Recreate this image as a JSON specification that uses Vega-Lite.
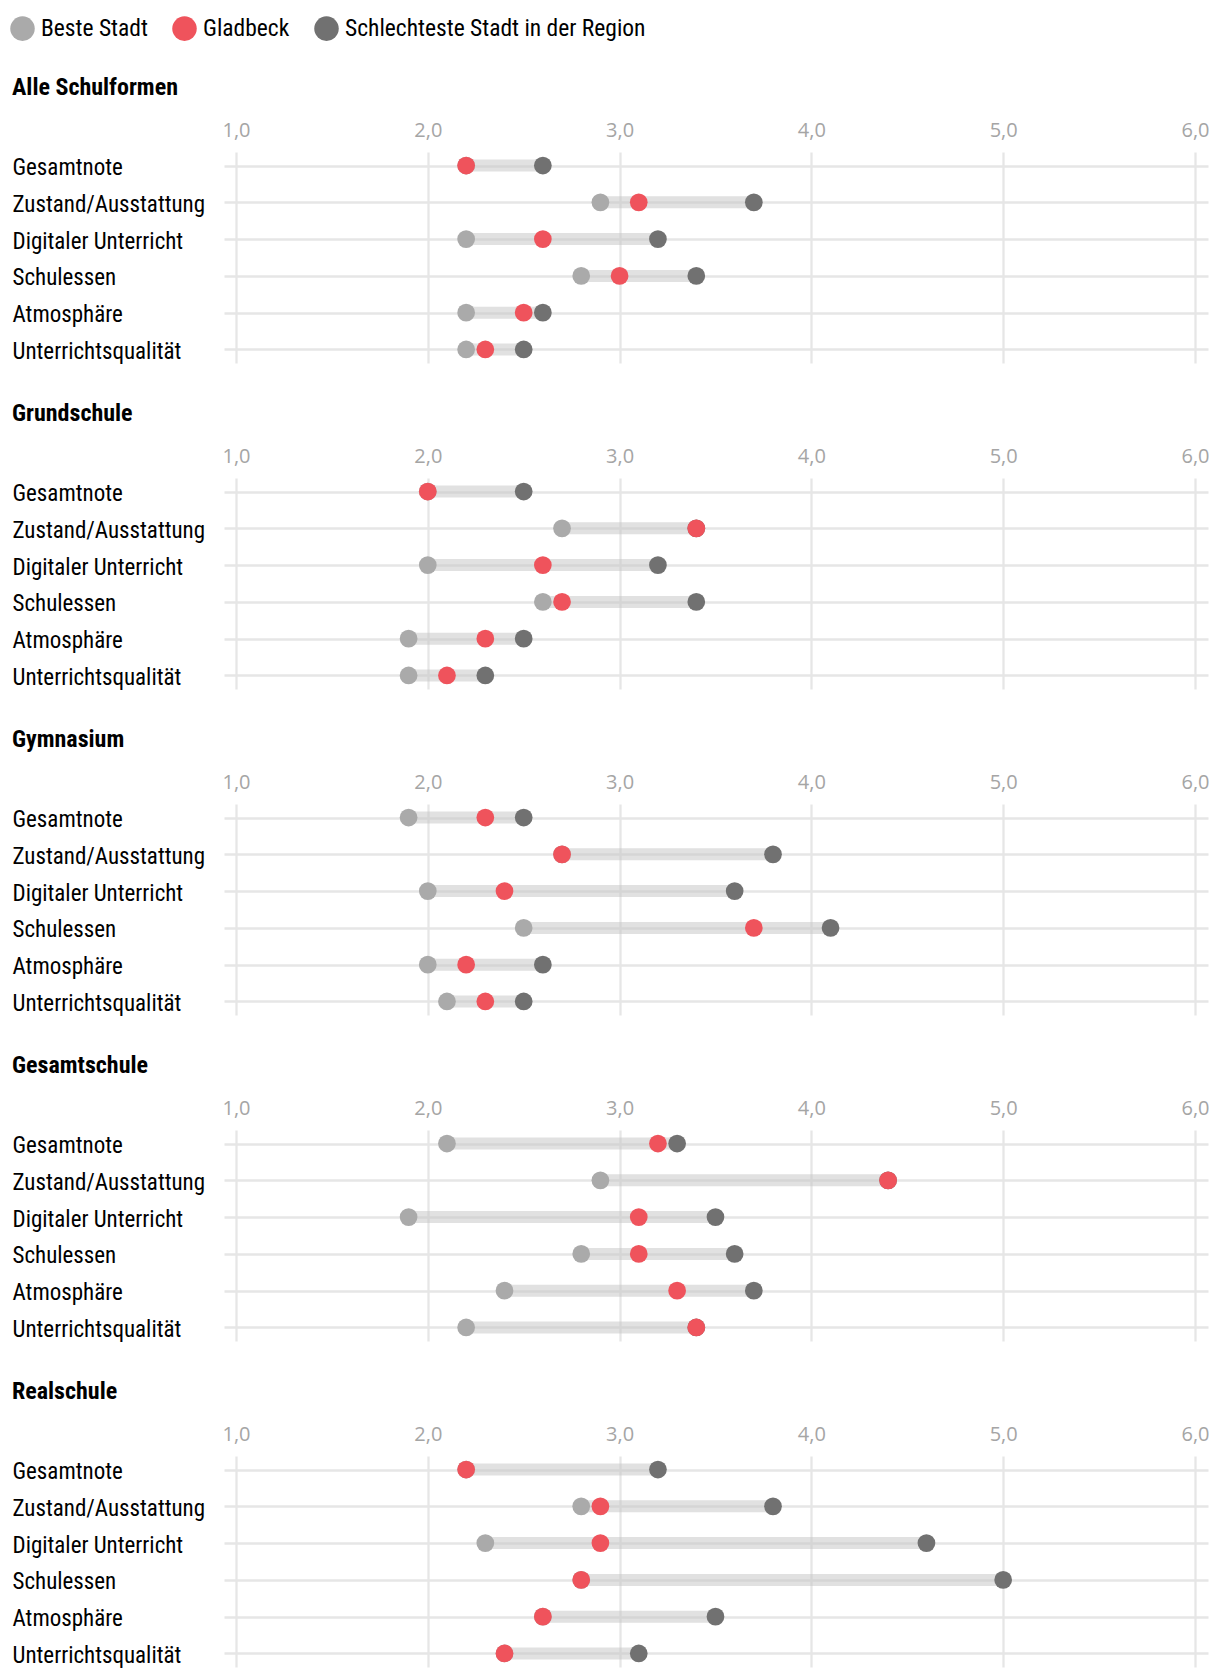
{
  "$schema": "https://vega.github.io/schema/vega-lite/v6.json",
  "background": "white",
  "padding": {"left": 10, "top": 16, "right": 0, "bottom": 0},
  "spacing": 38,
  "data": {"values": [
    {"schulform": "Alle Schulformen", "kategorie": "Gesamtnote", "beste": 2.2, "gladbeck": 2.2, "schlechteste": 2.6},
    {"schulform": "Alle Schulformen", "kategorie": "Zustand/Ausstattung", "beste": 2.9, "gladbeck": 3.1, "schlechteste": 3.7},
    {"schulform": "Alle Schulformen", "kategorie": "Digitaler Unterricht", "beste": 2.2, "gladbeck": 2.6, "schlechteste": 3.2},
    {"schulform": "Alle Schulformen", "kategorie": "Schulessen", "beste": 2.8, "gladbeck": 3.0, "schlechteste": 3.4},
    {"schulform": "Alle Schulformen", "kategorie": "Atmosphäre", "beste": 2.2, "gladbeck": 2.5, "schlechteste": 2.6},
    {"schulform": "Alle Schulformen", "kategorie": "Unterrichtsqualität", "beste": 2.2, "gladbeck": 2.3, "schlechteste": 2.5},
    {"schulform": "Grundschule", "kategorie": "Gesamtnote", "beste": 2.0, "gladbeck": 2.0, "schlechteste": 2.5},
    {"schulform": "Grundschule", "kategorie": "Zustand/Ausstattung", "beste": 2.7, "gladbeck": 3.4, "schlechteste": 3.4},
    {"schulform": "Grundschule", "kategorie": "Digitaler Unterricht", "beste": 2.0, "gladbeck": 2.6, "schlechteste": 3.2},
    {"schulform": "Grundschule", "kategorie": "Schulessen", "beste": 2.6, "gladbeck": 2.7, "schlechteste": 3.4},
    {"schulform": "Grundschule", "kategorie": "Atmosphäre", "beste": 1.9, "gladbeck": 2.3, "schlechteste": 2.5},
    {"schulform": "Grundschule", "kategorie": "Unterrichtsqualität", "beste": 1.9, "gladbeck": 2.1, "schlechteste": 2.3},
    {"schulform": "Gymnasium", "kategorie": "Gesamtnote", "beste": 1.9, "gladbeck": 2.3, "schlechteste": 2.5},
    {"schulform": "Gymnasium", "kategorie": "Zustand/Ausstattung", "beste": 2.7, "gladbeck": 2.7, "schlechteste": 3.8},
    {"schulform": "Gymnasium", "kategorie": "Digitaler Unterricht", "beste": 2.0, "gladbeck": 2.4, "schlechteste": 3.6},
    {"schulform": "Gymnasium", "kategorie": "Schulessen", "beste": 2.5, "gladbeck": 3.7, "schlechteste": 4.1},
    {"schulform": "Gymnasium", "kategorie": "Atmosphäre", "beste": 2.0, "gladbeck": 2.2, "schlechteste": 2.6},
    {"schulform": "Gymnasium", "kategorie": "Unterrichtsqualität", "beste": 2.1, "gladbeck": 2.3, "schlechteste": 2.5},
    {"schulform": "Gesamtschule", "kategorie": "Gesamtnote", "beste": 2.1, "gladbeck": 3.2, "schlechteste": 3.3},
    {"schulform": "Gesamtschule", "kategorie": "Zustand/Ausstattung", "beste": 2.9, "gladbeck": 4.4, "schlechteste": 4.4},
    {"schulform": "Gesamtschule", "kategorie": "Digitaler Unterricht", "beste": 1.9, "gladbeck": 3.1, "schlechteste": 3.5},
    {"schulform": "Gesamtschule", "kategorie": "Schulessen", "beste": 2.8, "gladbeck": 3.1, "schlechteste": 3.6},
    {"schulform": "Gesamtschule", "kategorie": "Atmosphäre", "beste": 2.4, "gladbeck": 3.3, "schlechteste": 3.7},
    {"schulform": "Gesamtschule", "kategorie": "Unterrichtsqualität", "beste": 2.2, "gladbeck": 3.4, "schlechteste": 3.4},
    {"schulform": "Realschule", "kategorie": "Gesamtnote", "beste": 2.2, "gladbeck": 2.2, "schlechteste": 3.2},
    {"schulform": "Realschule", "kategorie": "Zustand/Ausstattung", "beste": 2.8, "gladbeck": 2.9, "schlechteste": 3.8},
    {"schulform": "Realschule", "kategorie": "Digitaler Unterricht", "beste": 2.3, "gladbeck": 2.9, "schlechteste": 4.6},
    {"schulform": "Realschule", "kategorie": "Schulessen", "beste": 2.8, "gladbeck": 2.8, "schlechteste": 5.0},
    {"schulform": "Realschule", "kategorie": "Atmosphäre", "beste": 2.6, "gladbeck": 2.6, "schlechteste": 3.5},
    {"schulform": "Realschule", "kategorie": "Unterrichtsqualität", "beste": 2.4, "gladbeck": 2.4, "schlechteste": 3.1}
  ]},
  "vconcat": [
    {
      "title": "Alle Schulformen",
      "width": 984, "height": 211,
      "transform": [{"filter": "datum.schulform == 'Alle Schulformen'"}],
      "encoding": {"y": {"field": "kategorie", "type": "nominal", "sort": ["Gesamtnote", "Zustand/Ausstattung", "Digitaler Unterricht", "Schulessen", "Atmosphäre", "Unterrichtsqualität"], "scale": {"type": "point", "padding": 0.37}, "axis": {"title": null, "grid": true}}},
      "layer": [
        {"mark": {"type": "rule", "strokeWidth": 12, "color": "#c4c4c4", "opacity": 0.5, "strokeCap": "butt"},
         "encoding": {"x": {"field": "beste", "type": "quantitative", "scale": {"domain": [0.9375, 6.068], "nice": false, "zero": false}, "axis": {"orient": "top", "title": null, "values": [1, 2, 3, 4, 5, 6], "labelExpr": "replace(format(datum.value, '.1f'), '.', ',')"}}, "x2": {"field": "schlechteste"}}},
        {"transform": [{"fold": ["beste", "schlechteste", "gladbeck"], "as": ["key", "value"]}],
         "mark": {"type": "circle", "size": 314, "opacity": 1},
         "encoding": {"x": {"field": "value", "type": "quantitative"}, "color": {"field": "key", "type": "nominal", "scale": {"domain": ["beste", "gladbeck", "schlechteste"], "range": ["#aaaaaa", "#ef535c", "#717171"]}, "legend": {"title": null, "labelExpr": "datum.label == 'beste' ? 'Beste Stadt' : datum.label == 'gladbeck' ? 'Gladbeck' : 'Schlechteste Stadt in der Region'"}}}}
      ]
    },
    {
      "title": "Grundschule",
      "width": 984, "height": 211,
      "transform": [{"filter": "datum.schulform == 'Grundschule'"}],
      "encoding": {"y": {"field": "kategorie", "type": "nominal", "sort": ["Gesamtnote", "Zustand/Ausstattung", "Digitaler Unterricht", "Schulessen", "Atmosphäre", "Unterrichtsqualität"], "scale": {"type": "point", "padding": 0.37}, "axis": {"title": null, "grid": true}}},
      "layer": [
        {"mark": {"type": "rule", "strokeWidth": 12, "color": "#c4c4c4", "opacity": 0.5, "strokeCap": "butt"},
         "encoding": {"x": {"field": "beste", "type": "quantitative", "scale": {"domain": [0.9375, 6.068], "nice": false, "zero": false}, "axis": {"orient": "top", "title": null, "values": [1, 2, 3, 4, 5, 6], "labelExpr": "replace(format(datum.value, '.1f'), '.', ',')"}}, "x2": {"field": "schlechteste"}}},
        {"transform": [{"fold": ["beste", "schlechteste", "gladbeck"], "as": ["key", "value"]}],
         "mark": {"type": "circle", "size": 314, "opacity": 1},
         "encoding": {"x": {"field": "value", "type": "quantitative"}, "color": {"field": "key", "type": "nominal", "scale": {"domain": ["beste", "gladbeck", "schlechteste"], "range": ["#aaaaaa", "#ef535c", "#717171"]}, "legend": {"title": null, "labelExpr": "datum.label == 'beste' ? 'Beste Stadt' : datum.label == 'gladbeck' ? 'Gladbeck' : 'Schlechteste Stadt in der Region'"}}}}
      ]
    },
    {
      "title": "Gymnasium",
      "width": 984, "height": 211,
      "transform": [{"filter": "datum.schulform == 'Gymnasium'"}],
      "encoding": {"y": {"field": "kategorie", "type": "nominal", "sort": ["Gesamtnote", "Zustand/Ausstattung", "Digitaler Unterricht", "Schulessen", "Atmosphäre", "Unterrichtsqualität"], "scale": {"type": "point", "padding": 0.37}, "axis": {"title": null, "grid": true}}},
      "layer": [
        {"mark": {"type": "rule", "strokeWidth": 12, "color": "#c4c4c4", "opacity": 0.5, "strokeCap": "butt"},
         "encoding": {"x": {"field": "beste", "type": "quantitative", "scale": {"domain": [0.9375, 6.068], "nice": false, "zero": false}, "axis": {"orient": "top", "title": null, "values": [1, 2, 3, 4, 5, 6], "labelExpr": "replace(format(datum.value, '.1f'), '.', ',')"}}, "x2": {"field": "schlechteste"}}},
        {"transform": [{"fold": ["beste", "schlechteste", "gladbeck"], "as": ["key", "value"]}],
         "mark": {"type": "circle", "size": 314, "opacity": 1},
         "encoding": {"x": {"field": "value", "type": "quantitative"}, "color": {"field": "key", "type": "nominal", "scale": {"domain": ["beste", "gladbeck", "schlechteste"], "range": ["#aaaaaa", "#ef535c", "#717171"]}, "legend": {"title": null, "labelExpr": "datum.label == 'beste' ? 'Beste Stadt' : datum.label == 'gladbeck' ? 'Gladbeck' : 'Schlechteste Stadt in der Region'"}}}}
      ]
    },
    {
      "title": "Gesamtschule",
      "width": 984, "height": 211,
      "transform": [{"filter": "datum.schulform == 'Gesamtschule'"}],
      "encoding": {"y": {"field": "kategorie", "type": "nominal", "sort": ["Gesamtnote", "Zustand/Ausstattung", "Digitaler Unterricht", "Schulessen", "Atmosphäre", "Unterrichtsqualität"], "scale": {"type": "point", "padding": 0.37}, "axis": {"title": null, "grid": true}}},
      "layer": [
        {"mark": {"type": "rule", "strokeWidth": 12, "color": "#c4c4c4", "opacity": 0.5, "strokeCap": "butt"},
         "encoding": {"x": {"field": "beste", "type": "quantitative", "scale": {"domain": [0.9375, 6.068], "nice": false, "zero": false}, "axis": {"orient": "top", "title": null, "values": [1, 2, 3, 4, 5, 6], "labelExpr": "replace(format(datum.value, '.1f'), '.', ',')"}}, "x2": {"field": "schlechteste"}}},
        {"transform": [{"fold": ["beste", "schlechteste", "gladbeck"], "as": ["key", "value"]}],
         "mark": {"type": "circle", "size": 314, "opacity": 1},
         "encoding": {"x": {"field": "value", "type": "quantitative"}, "color": {"field": "key", "type": "nominal", "scale": {"domain": ["beste", "gladbeck", "schlechteste"], "range": ["#aaaaaa", "#ef535c", "#717171"]}, "legend": {"title": null, "labelExpr": "datum.label == 'beste' ? 'Beste Stadt' : datum.label == 'gladbeck' ? 'Gladbeck' : 'Schlechteste Stadt in der Region'"}}}}
      ]
    },
    {
      "title": "Realschule",
      "width": 984, "height": 211,
      "transform": [{"filter": "datum.schulform == 'Realschule'"}],
      "encoding": {"y": {"field": "kategorie", "type": "nominal", "sort": ["Gesamtnote", "Zustand/Ausstattung", "Digitaler Unterricht", "Schulessen", "Atmosphäre", "Unterrichtsqualität"], "scale": {"type": "point", "padding": 0.37}, "axis": {"title": null, "grid": true}}},
      "layer": [
        {"mark": {"type": "rule", "strokeWidth": 12, "color": "#c4c4c4", "opacity": 0.5, "strokeCap": "butt"},
         "encoding": {"x": {"field": "beste", "type": "quantitative", "scale": {"domain": [0.9375, 6.068], "nice": false, "zero": false}, "axis": {"orient": "top", "title": null, "values": [1, 2, 3, 4, 5, 6], "labelExpr": "replace(format(datum.value, '.1f'), '.', ',')"}}, "x2": {"field": "schlechteste"}}},
        {"transform": [{"fold": ["beste", "schlechteste", "gladbeck"], "as": ["key", "value"]}],
         "mark": {"type": "circle", "size": 314, "opacity": 1},
         "encoding": {"x": {"field": "value", "type": "quantitative"}, "color": {"field": "key", "type": "nominal", "scale": {"domain": ["beste", "gladbeck", "schlechteste"], "range": ["#aaaaaa", "#ef535c", "#717171"]}, "legend": {"title": null, "labelExpr": "datum.label == 'beste' ? 'Beste Stadt' : datum.label == 'gladbeck' ? 'Gladbeck' : 'Schlechteste Stadt in der Region'"}}}}
      ]
    }
  ],
  "config": {
    "view": {"stroke": null},
    "title": {"anchor": "start", "frame": "bounds", "font": "Roboto Condensed, Liberation Sans Narrow, Arial Narrow, Roboto, sans-serif", "fontSize": 24, "fontWeight": "bold", "color": "#000000", "offset": 20},
    "axisX": {"labelFont": "Open Sans", "labelFontSize": 20, "labelColor": "#a5a5a5", "ticks": false, "tickSize": 0, "domain": false, "labelPadding": 12, "labelFlush": false, "grid": true, "gridColor": "#e6e6e6", "gridWidth": 2.3},
    "axisY": {"labelFont": "Roboto Condensed, Liberation Sans Narrow, Arial Narrow, Roboto, sans-serif", "labelFontSize": 23, "labelColor": "#000000", "labelAlign": "left", "labelPadding": 212, "labelLimit": 400, "labelOffset": 2, "ticks": false, "tickSize": 0, "domain": false, "gridColor": "#e6e6e6", "gridWidth": 2.3},
    "legend": {"orient": "none", "legendX": -214, "legendY": -136, "direction": "horizontal", "labelFont": "Roboto Condensed, Liberation Sans Narrow, Arial Narrow, Roboto, sans-serif", "labelFontSize": 23.5, "labelColor": "#000000", "symbolSize": 602, "symbolType": "circle", "symbolStrokeWidth": 0, "symbolOpacity": 1, "labelOffset": 6, "columnPadding": 24, "labelLimit": 500}
  }
}
